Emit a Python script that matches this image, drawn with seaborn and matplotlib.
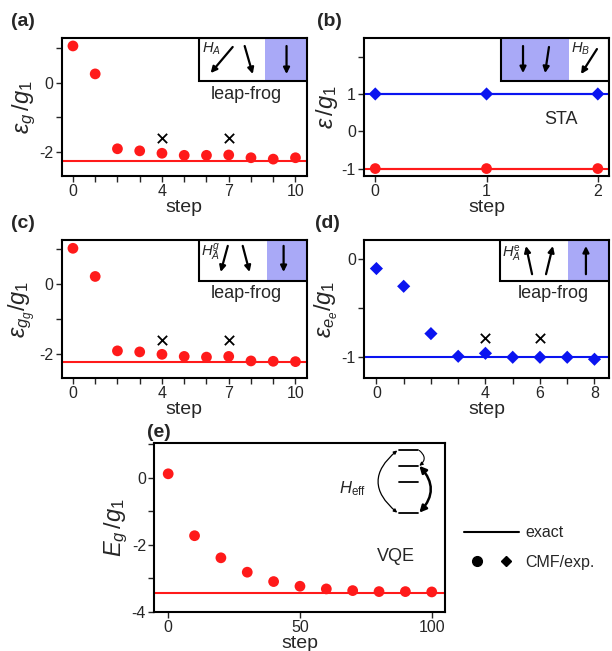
#!/usr/bin/env python3
import numpy as np
import pandas as pd
import seaborn as sns
import matplotlib.pyplot as plt
from matplotlib.patches import Rectangle
from matplotlib.lines import Line2D
from matplotlib.legend_handler import HandlerTuple

# ---- data ----
steps_a = list(range(11))
eps_a = [1.07, 0.26, -1.91, -1.97, -2.04, -2.10, -2.10, -2.09, -2.17, -2.21, -2.17]
exact_a = -2.26
cross_a_x = [4, 7]
cross_a_y = [-1.6, -1.6]

steps_b = [0, 1, 2]
upper_b = [1.0, 1.0, 1.0]
lower_b = [-1.0, -1.0, -1.0]

steps_c = list(range(11))
eps_c = [1.03, 0.22, -1.92, -1.95, -2.02, -2.08, -2.10, -2.08, -2.21, -2.22, -2.23]
exact_c = -2.25
cross_c_x = [4, 7]
cross_c_y = [-1.6, -1.6]

steps_d = list(range(9))
eps_d = [-0.10, -0.28, -0.76, -0.99, -0.96, -1.00, -1.00, -1.00, -1.02]
exact_d = -1.0
cross_d_x = [4, 6]
cross_d_y = [-0.8, -0.8]

steps_e = [0, 10, 20, 30, 40, 50, 60, 70, 80, 90, 100]
E_e = [0.12, -1.73, -2.39, -2.82, -3.10, -3.24, -3.32, -3.37, -3.40, -3.40, -3.41]
exact_e = -3.43

RED = '#ff1a1a'
BLUE = '#0a14f0'
SHADE = '#a9a9f7'

sns.set_style('ticks')
plt.rcParams['font.family'] = ['Liberation Sans', 'DejaVu Sans']
plt.rcParams['mathtext.fontset'] = 'custom'
plt.rcParams['mathtext.rm'] = 'Liberation Sans'
plt.rcParams['mathtext.it'] = 'Liberation Sans:italic'
plt.rcParams['axes.linewidth'] = 1.5
plt.rcParams['xtick.major.width'] = 1.0
plt.rcParams['ytick.major.width'] = 1.0
plt.rcParams['xtick.minor.width'] = 1.0
plt.rcParams['ytick.minor.width'] = 1.0
plt.rcParams['xtick.major.size'] = 4
plt.rcParams['ytick.major.size'] = 4
plt.rcParams['xtick.minor.size'] = 4
plt.rcParams['ytick.minor.size'] = 4

fig = plt.figure(figsize=(6.12, 6.51), dpi=100)
ax_a = fig.add_axes([0.101, 0.7296, 0.400, 0.212])
ax_b = fig.add_axes([0.595, 0.7296, 0.400, 0.212])
ax_c = fig.add_axes([0.101, 0.4194, 0.400, 0.212])
ax_d = fig.add_axes([0.595, 0.4194, 0.400, 0.212])
ax_e = fig.add_axes([0.252, 0.0604, 0.475, 0.2596])

circ = dict(marker='o', s=60, color=RED, edgecolor='none', zorder=3)
diam = dict(marker='D', s=45, color=BLUE, edgecolor='none', zorder=3)
cross = dict(marker='x', s=45, color='black', linewidth=1.3, zorder=3)


def style(ax, xlim, ylim, xmaj, xmin, ymaj, ymin, ylabel):
    ax.set_xlim(*xlim)
    ax.set_ylim(*ylim)
    ax.set_xticks(xmaj)
    ax.set_xticks(xmin, minor=True)
    ax.set_yticks(ymaj)
    ax.set_yticks(ymin, minor=True)
    ax.set_yticklabels([('%g' % v) for v in ymaj])
    ax.tick_params(labelsize=11.5, pad=2)
    ax.set_xlabel('step', fontsize=14, labelpad=0)
    ax.set_ylabel(ylabel, fontsize=17, labelpad=1)
    for s in ax.spines.values():
        s.set_visible(True)
        s.set_color('black')


def arrow(ax, p0, p1, lw=1.6):
    ax.annotate('', xy=p1, xytext=p0, xycoords='axes fraction',
                textcoords='axes fraction', zorder=7,
                arrowprops=dict(arrowstyle='-|>', lw=lw, color='black',
                                mutation_scale=9, shrinkA=0, shrinkB=0))


def inset_box(ax, x0, y0, xs, shade_left):
    # white part then shaded part
    if shade_left:
        ax.add_patch(Rectangle((x0, y0), xs - x0, 1 - y0, transform=ax.transAxes,
                               facecolor=SHADE, edgecolor='none', zorder=4))
    else:
        ax.add_patch(Rectangle((xs, y0), 1 - xs, 1 - y0, transform=ax.transAxes,
                               facecolor=SHADE, edgecolor='none', zorder=4))
    ax.add_patch(Rectangle((x0, y0), 1 - x0, 1 - y0, transform=ax.transAxes,
                           facecolor='none', edgecolor='black', lw=1.5, zorder=5))


# ---- (a) ----
sns.scatterplot(x=steps_a, y=eps_a, ax=ax_a, **circ)
sns.scatterplot(x=cross_a_x, y=cross_a_y, ax=ax_a, **cross)
ax_a.axhline(exact_a, color=RED, lw=1.5, zorder=2)
style(ax_a, (-0.5, 10.5), (-2.7, 1.3), [0, 4, 7, 10], steps_a, [-2, 0], [-1, 1],
      r'$\varepsilon_g\,/g_1$')
inset_box(ax_a, 0.559, 0.688, 0.83, False)
ax_a.text(0.572, 0.895, r'$H_A$', transform=ax_a.transAxes, fontsize=10.5, zorder=6)
arrow(ax_a, (0.698, 0.935), (0.608, 0.746))
arrow(ax_a, (0.747, 0.942), (0.780, 0.739))
arrow(ax_a, (0.918, 0.942), (0.918, 0.739))
ax_a.text(0.755, 0.594, 'leap-frog', transform=ax_a.transAxes, fontsize=13,
          ha='center', va='center')

# ---- (b) ----
sns.lineplot(x=steps_b, y=upper_b, ax=ax_b, color=BLUE, lw=1.5)
sns.lineplot(x=steps_b, y=lower_b, ax=ax_b, color=RED, lw=1.5)
ax_b.axhline(upper_b[0], color=BLUE, lw=1.5, zorder=2)
ax_b.axhline(lower_b[0], color=RED, lw=1.5, zorder=2)
sns.scatterplot(x=steps_b, y=upper_b, ax=ax_b, **diam)
sns.scatterplot(x=steps_b, y=lower_b, ax=ax_b, **circ)
style(ax_b, (-0.1, 2.1), (-1.2, 2.5), [0, 1, 2], [], [-1, 0, 1], [2],
      r'$\varepsilon\,/g_1$')
inset_box(ax_b, 0.559, 0.688, 0.837, True)
arrow(ax_b, (0.649, 0.942), (0.649, 0.746))
arrow(ax_b, (0.755, 0.935), (0.739, 0.746))
ax_b.text(0.845, 0.895, r'$H_B$', transform=ax_b.transAxes, fontsize=10.5, zorder=6)
arrow(ax_b, (0.951, 0.920), (0.886, 0.739))
ax_b.text(0.804, 0.413, 'STA', transform=ax_b.transAxes, fontsize=13,
          ha='center', va='center')

# ---- (c) ----
sns.scatterplot(x=steps_c, y=eps_c, ax=ax_c, **circ)
sns.scatterplot(x=cross_c_x, y=cross_c_y, ax=ax_c, **cross)
ax_c.axhline(exact_c, color=RED, lw=1.5, zorder=2)
style(ax_c, (-0.5, 10.5), (-2.7, 1.27), [0, 4, 7, 10], steps_c, [-2, 0], [-1, 1],
      r'$\varepsilon_{g_g}/g_1$')
inset_box(ax_c, 0.559, 0.703, 0.837, False)
ax_c.text(0.567, 0.88, r'$H_A^g$', transform=ax_c.transAxes, fontsize=10.5, zorder=6)
arrow(ax_c, (0.678, 0.957), (0.649, 0.768))
arrow(ax_c, (0.739, 0.957), (0.767, 0.768))
arrow(ax_c, (0.906, 0.957), (0.906, 0.768))
ax_c.text(0.755, 0.609, 'leap-frog', transform=ax_c.transAxes, fontsize=13,
          ha='center', va='center')

# ---- (d) ----
sns.scatterplot(x=steps_d, y=eps_d, ax=ax_d, **diam)
sns.scatterplot(x=cross_d_x, y=cross_d_y, ax=ax_d, **cross)
ax_d.axhline(exact_d, color=BLUE, lw=1.5, zorder=2)
style(ax_d, (-0.45, 8.53), (-1.21, 0.19), [0, 4, 6, 8], steps_d, [-1, 0], [-0.5],
      r'$\varepsilon_{e_e}/g_1$')
inset_box(ax_d, 0.555, 0.703, 0.833, False)
ax_d.text(0.562, 0.875, r'$H_A^{\rm e}$', transform=ax_d.transAxes, fontsize=10.5, zorder=6)
arrow(ax_d, (0.686, 0.752), (0.661, 0.956))
arrow(ax_d, (0.743, 0.752), (0.771, 0.956))
arrow(ax_d, (0.906, 0.752), (0.906, 0.956))
ax_d.text(0.771, 0.613, 'leap-frog', transform=ax_d.transAxes, fontsize=13,
          ha='center', va='center')

# ---- (e) ----
sns.scatterplot(x=steps_e, y=E_e, ax=ax_e, **circ)
ax_e.axhline(exact_e, color=RED, lw=1.5, zorder=2)
style(ax_e, (-5.3, 105), (-4, 1.05), [0, 50, 100], [], [-4, -2, 0], [-3, -1, 1],
      r'$E_g\,/g_1$')
ax_e.text(0.83, 0.325, 'VQE', transform=ax_e.transAxes, fontsize=13,
          ha='center', va='center')
ax_e.text(0.635, 0.70, r'$H_{\rm eff}$', transform=ax_e.transAxes, fontsize=12)
for ly in [0.954, 0.863, 0.765, 0.586]:
    ax_e.plot([0.842, 0.907], [ly, ly], color='black', lw=1.3,
              transform=ax_e.transAxes)
ax_e.annotate('', xy=(0.836, 0.586), xytext=(0.836, 0.954), xycoords='axes fraction',
              arrowprops=dict(arrowstyle='<|-|>', lw=0.9, color='black',
                              mutation_scale=5, shrinkA=0, shrinkB=0,
                              connectionstyle='arc3,rad=0.6'))
ax_e.annotate('', xy=(0.912, 0.863), xytext=(0.912, 0.954), xycoords='axes fraction',
              arrowprops=dict(arrowstyle='-|>', lw=0.8, color='black',
                              mutation_scale=5, shrinkA=0, shrinkB=0,
                              connectionstyle='arc3,rad=-0.6'))
ax_e.annotate('', xy=(0.912, 0.586), xytext=(0.912, 0.863), xycoords='axes fraction',
              arrowprops=dict(arrowstyle='<|-|>', lw=1.8, color='black',
                              mutation_scale=10, shrinkA=0, shrinkB=0,
                              connectionstyle='arc3,rad=-0.45'))

# ---- panel labels ----
for lab, x, y in [('(a)', 0.018, 0.967), ('(b)', 0.518, 0.967), ('(c)', 0.018, 0.657),
                  ('(d)', 0.514, 0.657), ('(e)', 0.240, 0.336)]:
    fig.text(x, y, lab, fontsize=14, fontweight='bold', va='center')

# ---- legend ----
h_line = Line2D([], [], color='black', lw=1.5)
h_c = Line2D([], [], marker='o', color='black', ls='none', markersize=7)
h_d = Line2D([], [], marker='D', color='black', ls='none', markersize=5.5)
fig.legend([h_line, (h_c, h_d)], ['exact', 'CMF/exp.'],
           handler_map={tuple: HandlerTuple(ndivide=None, pad=0.3)},
           loc='upper left', bbox_to_anchor=(0.735, 0.215), frameon=False,
           fontsize=11.5, handlelength=3.4, labelspacing=0.9, handletextpad=0.4)

plt.savefig('out.png', dpi=100)
plt.close()
